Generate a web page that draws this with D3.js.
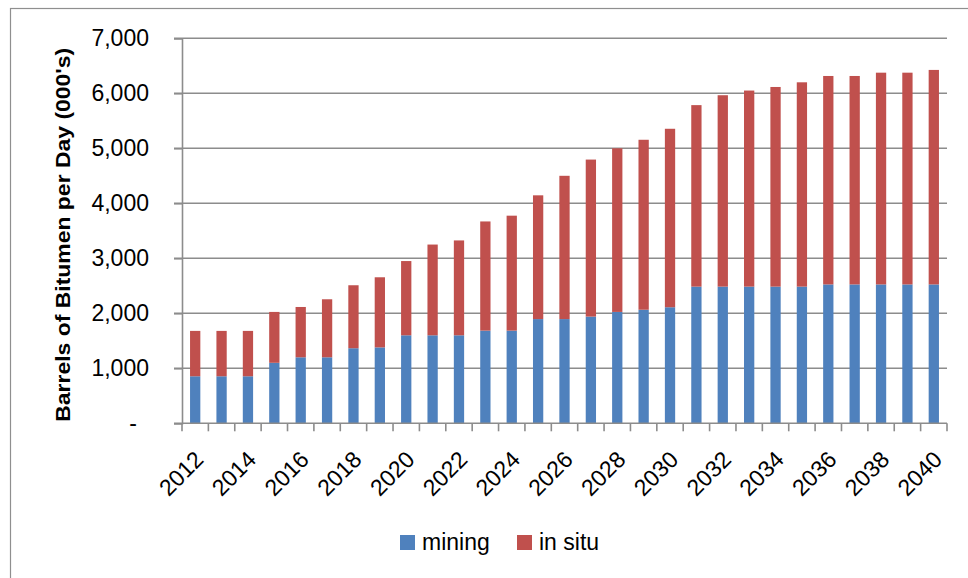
<!DOCTYPE html>
<html>
<head>
<meta charset="utf-8">
<script src="https://cdn.jsdelivr.net/npm/d3@7"></script>
<style>
  body { margin: 0; background: #fff; }
  svg { display: block; font-family: "Liberation Sans", Arial, sans-serif; }
</style>
</head>
<body>
<div class="chart"></div>
<script>
// bitumen production, thousand barrels per day
const years = d3.range(2012, 2041);
const mining = [855, 855, 855, 1100, 1200, 1200, 1365, 1380, 1600, 1600, 1600, 1685, 1685, 1895, 1895,
                1940, 2025, 2065, 2110, 2485, 2485, 2485, 2485, 2485, 2525, 2525, 2525, 2525, 2525];
const inSitu = [825, 825, 825, 925, 915, 1055, 1145, 1275, 1350, 1650, 1725, 1985, 2090, 2250, 2605,
                2855, 2975, 3090, 3245, 3300, 3480, 3565, 3630, 3715, 3790, 3790, 3850, 3850, 3900];
const yTicks = [0, 1000, 2000, 3000, 4000, 5000, 6000, 7000];
const seriesNames = ["mining", "in situ"];
const seriesColors = ["#4F81BD", "#C0504D"];

const WIDTH = 968, HEIGHT = 578;
const M = {top: 38.3, right: 21, bottom: 154.7, left: 182};

const svg = d3.select(".chart").append("svg")
    .attr("width", WIDTH)
    .attr("height", HEIGHT);

// outer chart frame (right/bottom edges fall outside the picture)
svg.append("rect")
    .attr("x", 10.5).attr("y", 8.5)
    .attr("width", 1000).attr("height", 1000)
    .attr("fill", "none")
    .attr("stroke", "#8f8f8f")
    .attr("stroke-width", 1.2);

const rows = years.map((y, i) => ({year: y, mining: mining[i], insitu: inSitu[i]}));
const stacked = d3.stack().keys(["mining", "insitu"])(rows);

const x = d3.scaleBand()
    .domain(years)
    .range([M.left, WIDTH - M.right])
    .paddingInner(0.61)
    .paddingOuter(0.305);

const yScale = d3.scaleLinear()
    .domain([0, 7000])
    .range([HEIGHT - M.bottom, M.top]);

// gridlines
svg.append("g")
    .selectAll("line")
    .data(yTicks.slice(1))
    .enter().append("line")
    .attr("x1", M.left - 8).attr("x2", WIDTH - M.right)
    .attr("y1", d => yScale(d)).attr("y2", d => yScale(d))
    .attr("stroke", "#8c8c8c")
    .attr("stroke-width", 1.6);

// bars
svg.append("g")
    .selectAll("g")
    .data(stacked)
    .enter().append("g")
    .attr("fill", (d, i) => seriesColors[i])
    .selectAll("rect")
    .data(d => d)
    .enter().append("rect")
    .attr("x", d => x(d.data.year))
    .attr("width", x.bandwidth())
    .attr("y", d => yScale(d[1]))
    .attr("height", d => yScale(d[0]) - yScale(d[1]));

// y axis
const yAxis = d3.axisLeft(yScale)
    .tickValues(yTicks)
    .tickSize(8)
    .tickPadding(25)
    .tickFormat(d => d === 0 ? "-" : d3.format(",")(d));

const gy = svg.append("g")
    .attr("transform", "translate(" + M.left + ",0)")
    .call(yAxis);
gy.select(".domain").attr("stroke", "#8c8c8c").attr("stroke-width", 1.6);
gy.selectAll(".tick line").attr("stroke", "#8c8c8c").attr("stroke-width", 1.6);
gy.selectAll(".tick text")
    .attr("font-size", 23)
    .attr("fill", "#000")
    .attr("dx", d => d === 0 ? -12 : 0);

// x axis: category boundary ticks, labels every other year
const baseY = yScale(0);
const step = x.step();
svg.append("g")
    .selectAll("line")
    .data(d3.range(years.length + 1))
    .enter().append("line")
    .attr("x1", i => M.left + i * step).attr("x2", i => M.left + i * step)
    .attr("y1", baseY).attr("y2", baseY + 8)
    .attr("stroke", "#8c8c8c")
    .attr("stroke-width", 1.6);
svg.append("line")
    .attr("x1", M.left - 8).attr("x2", WIDTH - M.right)
    .attr("y1", baseY).attr("y2", baseY)
    .attr("stroke", "#8c8c8c")
    .attr("stroke-width", 1.6);

svg.append("g")
    .selectAll("text")
    .data(years.filter(y => y % 2 === 0))
    .enter().append("text")
    .attr("transform", d => "translate(" + (x(d) + x.bandwidth() / 2 + 4) + "," + (baseY + 32) + ") rotate(-45)")
    .attr("text-anchor", "end")
    .attr("dy", "0.35em")
    .attr("font-size", 23)
    .text(d => d);

// y axis title
svg.append("text")
    .attr("transform", "translate(70," + ((M.top + baseY) / 2 + 4) + ") rotate(-90)")
    .attr("text-anchor", "middle")
    .attr("font-size", 21)
    .attr("font-weight", "bold")
    .attr("textLength", 374)
    .attr("lengthAdjust", "spacingAndGlyphs")
    .text("Barrels of Bitumen per Day (000's)");

// legend
const legendX = [400, 517];
const lg = svg.append("g")
    .selectAll("g")
    .data(seriesNames)
    .enter().append("g")
    .attr("transform", (d, i) => "translate(" + legendX[i] + ",535)");
lg.append("rect")
    .attr("width", 15).attr("height", 15)
    .attr("fill", (d, i) => seriesColors[i]);
lg.append("text")
    .attr("x", 22).attr("y", 15)
    .attr("font-size", 23)
    .text(d => d);
</script>
</body>
</html>
